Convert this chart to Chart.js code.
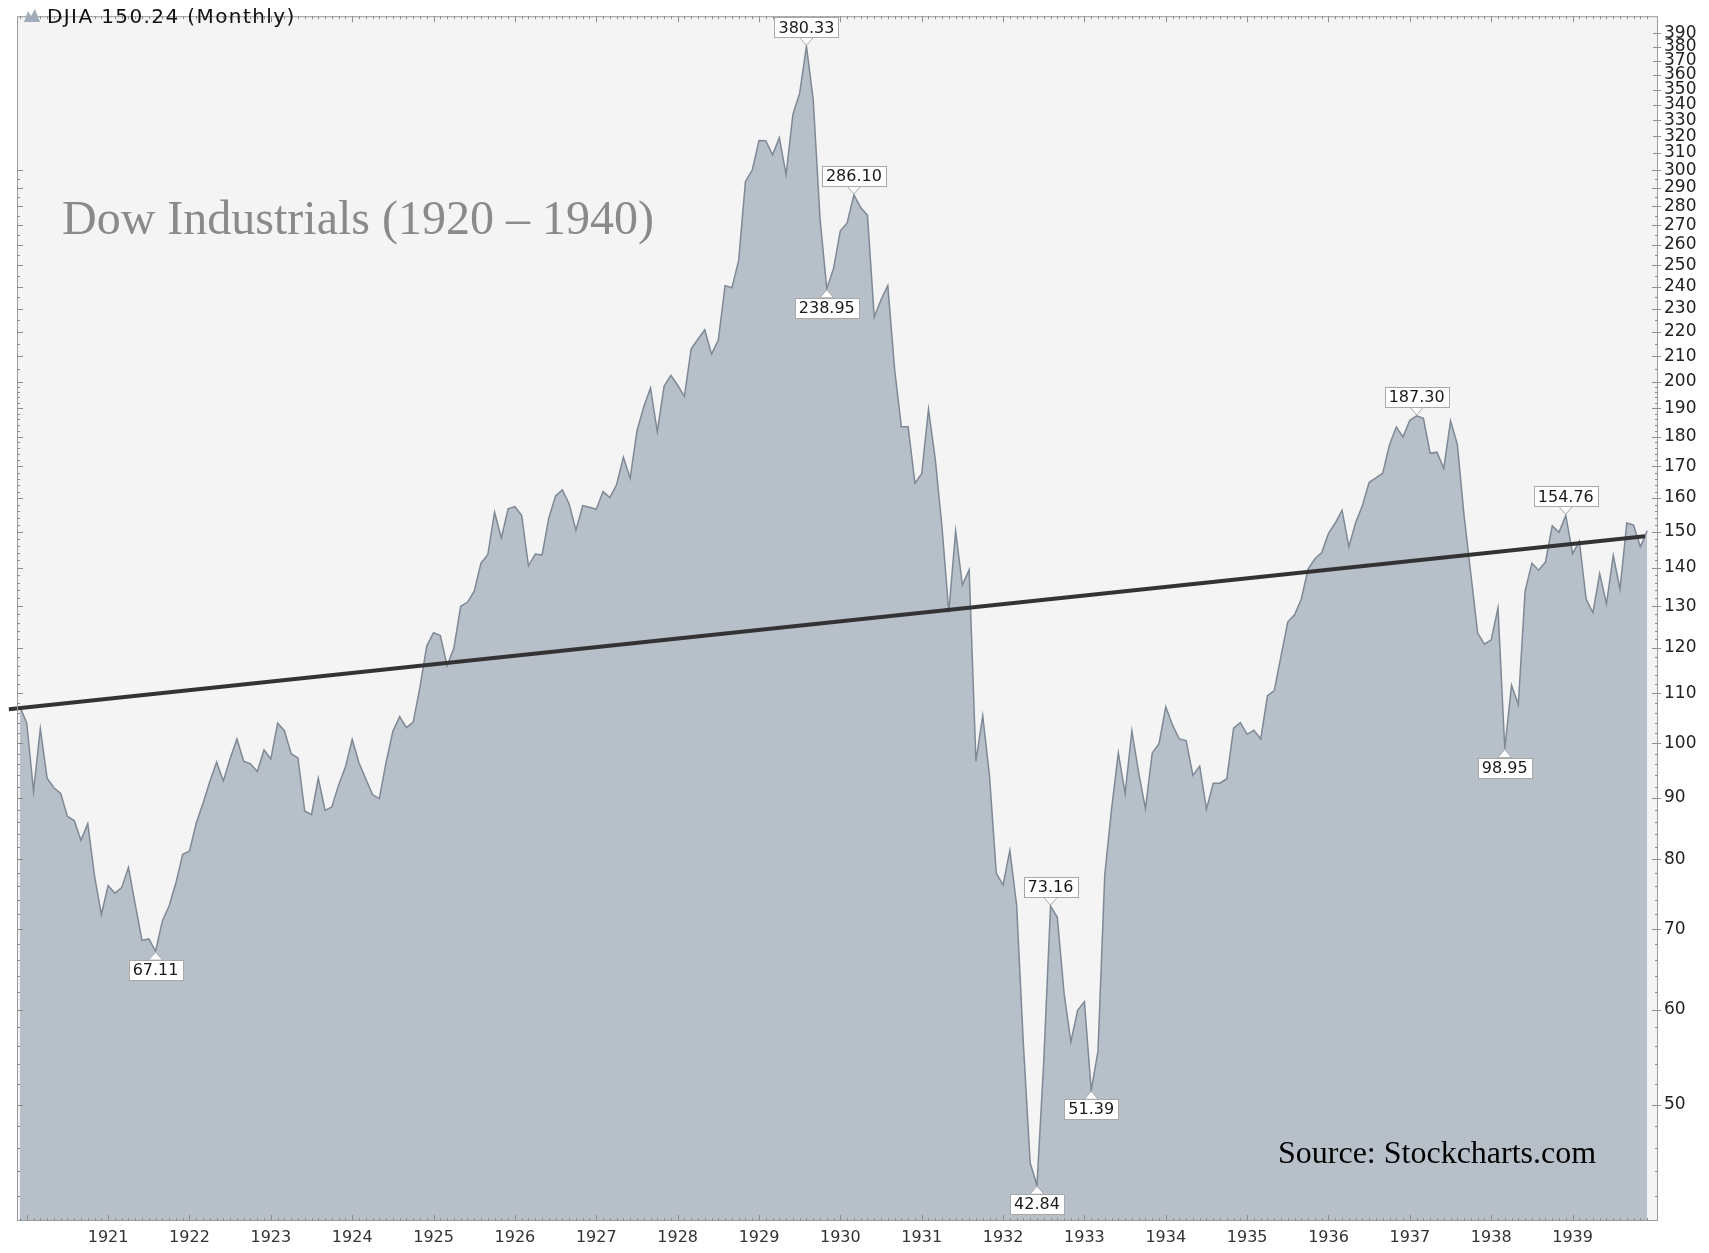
<!DOCTYPE html>
<html>
<head>
<meta charset="utf-8">
<title>Dow Industrials (1920 – 1940)</title>
<script src="https://cdn.jsdelivr.net/npm/chart.js@4.4.1/dist/chart.umd.min.js"></script>
<style>
  html, body { margin: 0; padding: 0; background: #fff; }
  canvas { display: block; }
</style>
</head>
<body>
<canvas id="chart-1" width="1709" height="1253"></canvas>
<script>
// DJIA monthly closes, Dec 1919 .. Dec 1939
const firstMonth = 1919 + 11 / 12;
const close1919 = [107.23];
const close1920 = [103.9, 91.2, 102.8, 93.5, 91.8, 90.8, 86.9, 86.2, 83.0, 85.7, 77.5, 72.0];
const close1921 = [76.1, 75.0, 75.8, 78.8, 73.4, 68.5, 68.7, 67.11, 71.1, 73.2, 76.5, 80.8];
const close1922 = [81.3, 85.8, 89.1, 92.9, 96.4, 93.0, 97.1, 100.8, 96.6, 96.1, 94.7, 98.7];
const close1923 = [97.0, 103.9, 102.4, 98.0, 97.2, 87.8, 87.2, 93.5, 87.9, 88.5, 92.3, 95.5];
const close1924 = [100.7, 96.3, 93.4, 90.6, 89.9, 96.4, 102.3, 105.2, 103.0, 104.1, 111.4, 120.5];
const close1925 = [123.6, 122.9, 116.0, 120.0, 130.0, 131.0, 133.8, 141.2, 143.5, 155.7, 148.2, 156.7];
const close1926 = [157.4, 154.7, 140.5, 143.7, 143.4, 154.0, 160.6, 162.5, 158.2, 150.4, 157.7, 157.2];
const close1927 = [156.6, 162.0, 160.1, 164.2, 173.0, 166.2, 182.0, 190.6, 197.6, 181.7, 198.2, 202.4];
const close1928 = [198.6, 194.4, 213.0, 216.9, 220.9, 210.8, 216.6, 240.4, 239.4, 252.2, 293.4, 300.0];
const close1929 = [317.5, 317.4, 308.9, 319.3, 297.4, 333.8, 347.7, 380.33, 343.5, 273.5, 238.95, 248.5];
const close1930 = [267.1, 271.1, 286.10, 279.2, 275.1, 226.3, 234.0, 240.4, 204.9, 183.4, 183.4, 164.6];
const close1931 = [167.6, 189.7, 172.4, 151.2, 128.5, 150.2, 135.4, 139.4, 96.6, 105.4, 93.9, 77.9];
const close1932 = [76.2, 81.4, 73.3, 56.1, 44.7, 42.84, 54.3, 73.16, 71.6, 61.9, 56.4, 59.9];
const close1933 = [60.9, 51.39, 55.4, 77.7, 88.1, 98.1, 90.8, 102.4, 94.5, 88.2, 98.1, 99.9];
const close1934 = [107.2, 103.5, 100.8, 100.5, 94.0, 95.7, 88.1, 92.6, 92.6, 93.4, 102.9, 104.0];
const close1935 = [101.7, 102.5, 100.8, 109.5, 110.6, 118.2, 126.2, 127.9, 131.9, 139.7, 142.4, 144.1];
const close1936 = [149.5, 152.5, 156.3, 145.7, 152.6, 157.7, 164.9, 166.3, 167.8, 177.2, 183.3, 179.9];
const close1937 = [185.7, 187.30, 186.4, 174.3, 174.7, 169.3, 185.5, 177.4, 154.6, 138.2, 123.5, 120.9];
const close1938 = [121.9, 129.6, 98.95, 111.7, 107.7, 133.9, 141.2, 139.3, 141.5, 151.7, 149.8, 154.76];
const close1939 = [143.8, 147.3, 131.8, 128.4, 138.4, 130.6, 143.3, 134.4, 152.5, 151.9, 145.7, 150.24];

// labelled highs and lows
const markValues = [67.11, 380.33, 238.95, 286.10, 42.84, 73.16, 51.39, 187.30, 98.95, 154.76];
const markSides = ['below', 'above', 'below', 'above', 'below', 'above', 'below', 'above', 'below', 'above'];

// trend line end points (year, value)
const trendYears = [1919.78, 1939.89];
const trendValues = [106.7, 148.7];

const yearTicks = [1921, 1922, 1923, 1924, 1925, 1926, 1927, 1928, 1929, 1930,
  1931, 1932, 1933, 1934, 1935, 1936, 1937, 1938, 1939];
const valueTicks = [50, 60, 70, 80, 90, 100, 110, 120, 130, 140, 150, 160, 170, 180, 190,
  200, 210, 220, 230, 240, 250, 260, 270, 280, 290, 300, 310, 320, 330, 340, 350, 360, 370, 380, 390];

const closes = [].concat(close1919, close1920, close1921, close1922, close1923, close1924,
  close1925, close1926, close1927, close1928, close1929, close1930, close1931, close1932,
  close1933, close1934, close1935, close1936, close1937, close1938, close1939);
const monthX = closes.map((v, i) => firstMonth + i / 12);

const fillColor = '#b7bfc9';
const lineColor = '#7e8995';
const plotBg = '#f4f4f4';
const frameColor = '#9b9b9b';

const decor = {
  id: 'decor',
  beforeDraw(chart) {
    const { ctx, chartArea: a } = chart;
    ctx.save();
    ctx.fillStyle = '#ffffff';
    ctx.fillRect(0, 0, chart.width, chart.height);
    ctx.fillStyle = plotBg;
    ctx.fillRect(a.left, a.top, a.right - a.left, a.bottom - a.top);
    ctx.restore();
  },
  afterDatasetsDraw(chart) {
    const { ctx, chartArea: a } = chart;
    const xs = chart.scales.x, ys = chart.scales.y;
    ctx.save();

    // frame
    ctx.strokeStyle = frameColor;
    ctx.lineWidth = 1;
    ctx.strokeRect(a.left + 0.5, a.top + 0.5, a.right - a.left - 1, a.bottom - a.top - 1);

    // month / year ticks along bottom and top
    ctx.strokeStyle = '#8d8d8d';
    ctx.beginPath();
    monthX.forEach((m, i) => {
      const px = Math.round(xs.getPixelForValue(m)) + 0.5;
      const major = (i % 12) === 1;
      const len = major ? 6 : 3;
      ctx.moveTo(px, a.bottom);
      ctx.lineTo(px, a.bottom - len);
      ctx.moveTo(px, a.top);
      ctx.lineTo(px, a.top + len);
    });
    // value ticks along right and left
    for (let v = 42; v <= 300; v += (v < 200 ? 2 : 5)) {
      const py = Math.round(ys.getPixelForValue(v)) + 0.5;
      const len = v % 10 === 0 ? 6 : 3;
      ctx.moveTo(a.right, py);
      ctx.lineTo(a.right - len, py);
      ctx.moveTo(a.left, py);
      ctx.lineTo(a.left + len, py);
    }
    valueTicks.forEach(v => {
      const py = Math.round(ys.getPixelForValue(v)) + 0.5;
      ctx.moveTo(a.right - 5, py);
      ctx.lineTo(a.right + 3, py);
    });
    ctx.stroke();

    // value labels on highs and lows
    ctx.font = '16px "DejaVu Sans"';
    ctx.textAlign = 'center';
    ctx.textBaseline = 'middle';
    markValues.forEach((v, k) => {
      const i = closes.indexOf(v);
      if (i < 0) return;
      const px = xs.getPixelForValue(monthX[i]);
      const py = ys.getPixelForValue(v);
      const txt = v.toFixed(2);
      const w = Math.round(ctx.measureText(txt).width) + 8;
      const h = 20;
      const up = markSides[k] === 'above';
      const edge = up ? py - 9 : py + 9;
      const top = up ? edge - h : edge;
      const left = Math.round(px - w / 2);
      ctx.fillStyle = '#ffffff';
      ctx.strokeStyle = '#a8a8a8';
      ctx.beginPath();
      ctx.moveTo(px - 7, edge);
      ctx.lineTo(px, py + (up ? -1 : 1));
      ctx.lineTo(px + 7, edge);
      ctx.closePath();
      ctx.fill();
      ctx.stroke();
      ctx.fillRect(left, Math.round(top), w, h);
      ctx.strokeRect(left + 0.5, Math.round(top) + 0.5, w, h);
      ctx.fillStyle = '#1a1a1a';
      ctx.fillText(txt, px, top + h / 2 + 1);
    });

    // legend line
    ctx.fillStyle = '#a3adb9';
    ctx.beginPath();
    ctx.moveTo(24, 22);
    ctx.lineTo(28, 11);
    ctx.lineTo(31, 16);
    ctx.lineTo(35, 9);
    ctx.lineTo(40, 22);
    ctx.closePath();
    ctx.fill();
    ctx.fillStyle = '#111';
    ctx.textAlign = 'left';
    ctx.textBaseline = 'alphabetic';
    ctx.font = '20px "DejaVu Sans"';
    if ('letterSpacing' in ctx) ctx.letterSpacing = '1.4px';
    ctx.fillText('DJIA 150.24 (Monthly)', 47, 23);
    if ('letterSpacing' in ctx) ctx.letterSpacing = '0px';

    // title and source
    ctx.fillStyle = '#8a8a8a';
    ctx.font = '48px "Liberation Serif", "Times New Roman", serif';
    ctx.fillText('Dow Industrials (1920 \u2013 1940)', 62, 234);
    ctx.fillStyle = '#000';
    ctx.font = '32px "Liberation Serif", "Times New Roman", serif';
    ctx.fillText('Source: Stockcharts.com', 1278, 1163);
    ctx.restore();
  }
};

const ctx1 = document.getElementById('chart-1');

new Chart(ctx1, {
  type: 'line',
  data: {
    datasets: [{
      label: 'Trend',
      data: trendYears.map((t, i) => ({ x: t, y: trendValues[i] })),
      borderColor: '#333333',
      borderWidth: 4,
      pointRadius: 0,
      fill: false,
      clip: false,
      order: 0
    }, {
      label: 'DJIA',
      data: closes.map((v, i) => ({ x: monthX[i], y: v })),
      borderColor: lineColor,
      backgroundColor: fillColor,
      borderWidth: 1.5,
      pointRadius: 0,
      tension: 0,
      fill: 'start',
      order: 1
    }]
  },
  options: {
    responsive: false,
    animation: false,
    events: [],
    layout: { padding: { left: 17, top: 3, right: 0, bottom: 0 } },
    plugins: { legend: { display: false }, tooltip: { enabled: false } },
    scales: {
      x: {
        type: 'linear',
        position: 'bottom',
        min: 1919.88,
        max: 1940.05,
        afterBuildTicks: s => { s.ticks = yearTicks.map(v => ({ value: v })); },
        afterFit: s => { s.height = 32; },
        grid: { display: false, drawTicks: false },
        border: { display: false },
        ticks: {
          autoSkip: false,
          maxRotation: 0,
          padding: 7,
          color: '#333',
          font: { family: 'DejaVu Sans', size: 16 },
          callback: v => String(v)
        }
      },
      y: {
        type: 'logarithmic',
        position: 'right',
        min: 40,
        max: 403,
        afterBuildTicks: s => { s.ticks = valueTicks.map(v => ({ value: v })); },
        afterFit: s => { s.width = 51; },
        grid: { display: false, drawTicks: false },
        border: { display: false },
        ticks: {
          autoSkip: false,
          padding: 6,
          color: '#222',
          font: { family: 'DejaVu Sans', size: 17 },
          callback: v => String(v)
        }
      }
    }
  },
  plugins: [decor]
});
</script>
</body>
</html>
